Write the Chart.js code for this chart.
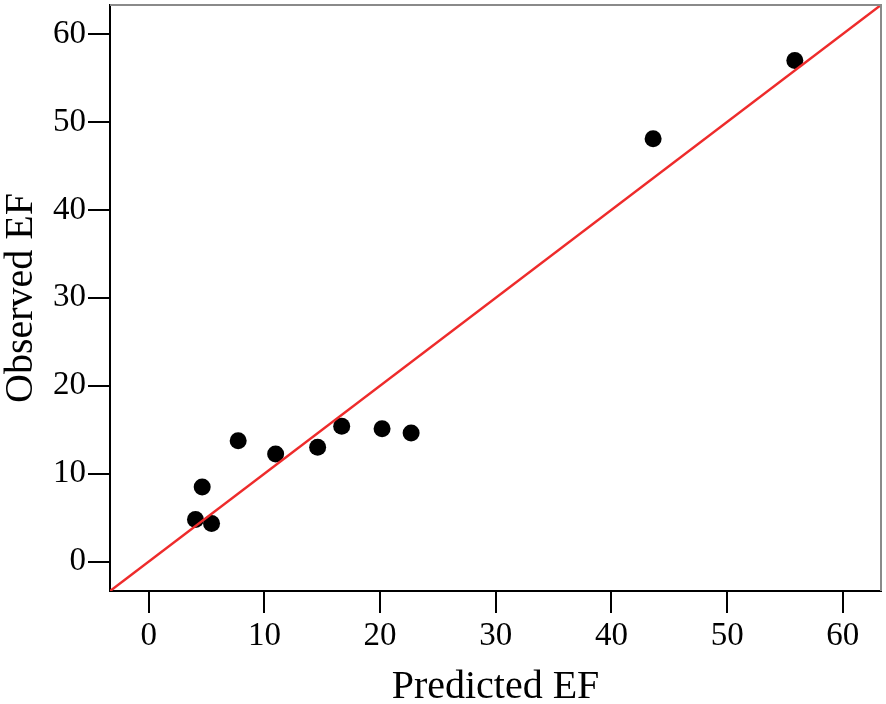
<!DOCTYPE html>
<html lang="en">
<head>
    <meta charset="utf-8">
    <script src="https://cdn.jsdelivr.net/npm/chart.js"></script>
    <style>
        body { margin: 0; background: #ffffff; }
        #chartBox { width: 886px; height: 704px; }
    </style>
</head>
<body>
    <div id="chartBox">
        <canvas id="scatterChart" width="886" height="704"></canvas>
    </div>
    <script>
        // Data
        const predictedEF = [4.04, 4.62, 5.43, 7.73, 10.97, 14.6, 16.68, 20.17, 22.68, 43.6, 55.85];
        const observedEF = [4.77, 8.49, 4.32, 13.75, 12.24, 12.99, 15.38, 15.11, 14.62, 48.1, 57.0];
        const axisMin = -3.35;
        const axisMax = 63.3;
        const tickStep = 10;

        const points = predictedEF.map((x, i) => ({ x: x, y: observedEF[i] }));
        const identityLine = [{ x: axisMin, y: axisMin }, { x: axisMax, y: axisMax }];

        const serif = "'Liberation Serif', 'Times New Roman', serif";

        // grey top and right edge of the plot box
        const frameEdges = {
            id: 'frameEdges',
            afterDraw(chart) {
                const a = chart.chartArea;
                const ctx = chart.ctx;
                ctx.save();
                ctx.strokeStyle = '#8a8a8a';
                ctx.lineWidth = 2;
                ctx.beginPath();
                ctx.moveTo(a.left, a.top);
                ctx.lineTo(a.right, a.top);
                ctx.lineTo(a.right, a.bottom);
                ctx.stroke();
                ctx.restore();
            }
        };

        function axisOptions(titleText, isX) {
            return {
                type: 'linear',
                min: axisMin,
                max: axisMax,
                border: { display: true, color: '#000000', width: 2 },
                grid: {
                    drawOnChartArea: false,
                    drawTicks: true,
                    tickLength: 22,
                    color: '#000000',
                    lineWidth: 2
                },
                ticks: {
                    stepSize: tickStep,
                    includeBounds: false,
                    color: '#000000',
                    padding: isX ? 4 : 2,
                    font: { family: serif, size: 33 }
                },
                title: {
                    display: true,
                    text: titleText,
                    color: '#000000',
                    padding: 0,
                    font: { family: serif, size: 40, lineHeight: isX ? 0.82 : 1.05 }
                },
                afterFit(scale) {
                    // fixed plot box, no extra room for half labels
                    scale.paddingTop = 0;
                    scale.paddingBottom = 0;
                    scale.paddingLeft = 0;
                    scale.paddingRight = 0;
                    if (isX) {
                        scale.height = 113;
                    } else {
                        scale.width = 110;
                    }
                }
            };
        }

        const ctx = document.getElementById('scatterChart').getContext('2d');
        new Chart(ctx, {
            type: 'scatter',
            data: {
                datasets: [
                    {
                        type: 'line',
                        data: identityLine,
                        borderColor: '#ee2b2b',
                        borderWidth: 2.5,
                        pointRadius: 0,
                        fill: false
                    },
                    {
                        data: points,
                        backgroundColor: '#000000',
                        borderWidth: 0,
                        pointRadius: 8.5
                    }
                ]
            },
            options: {
                responsive: false,
                devicePixelRatio: 1,
                animation: false,
                layout: { autoPadding: false, padding: { left: 0, top: 5, right: 5, bottom: 0 } },
                plugins: {
                    legend: { display: false },
                    tooltip: { enabled: false }
                },
                scales: {
                    x: axisOptions('Predicted EF', true),
                    y: axisOptions('Observed EF', false)
                }
            },
            plugins: [frameEdges]
        });
    </script>
</body>
</html>
